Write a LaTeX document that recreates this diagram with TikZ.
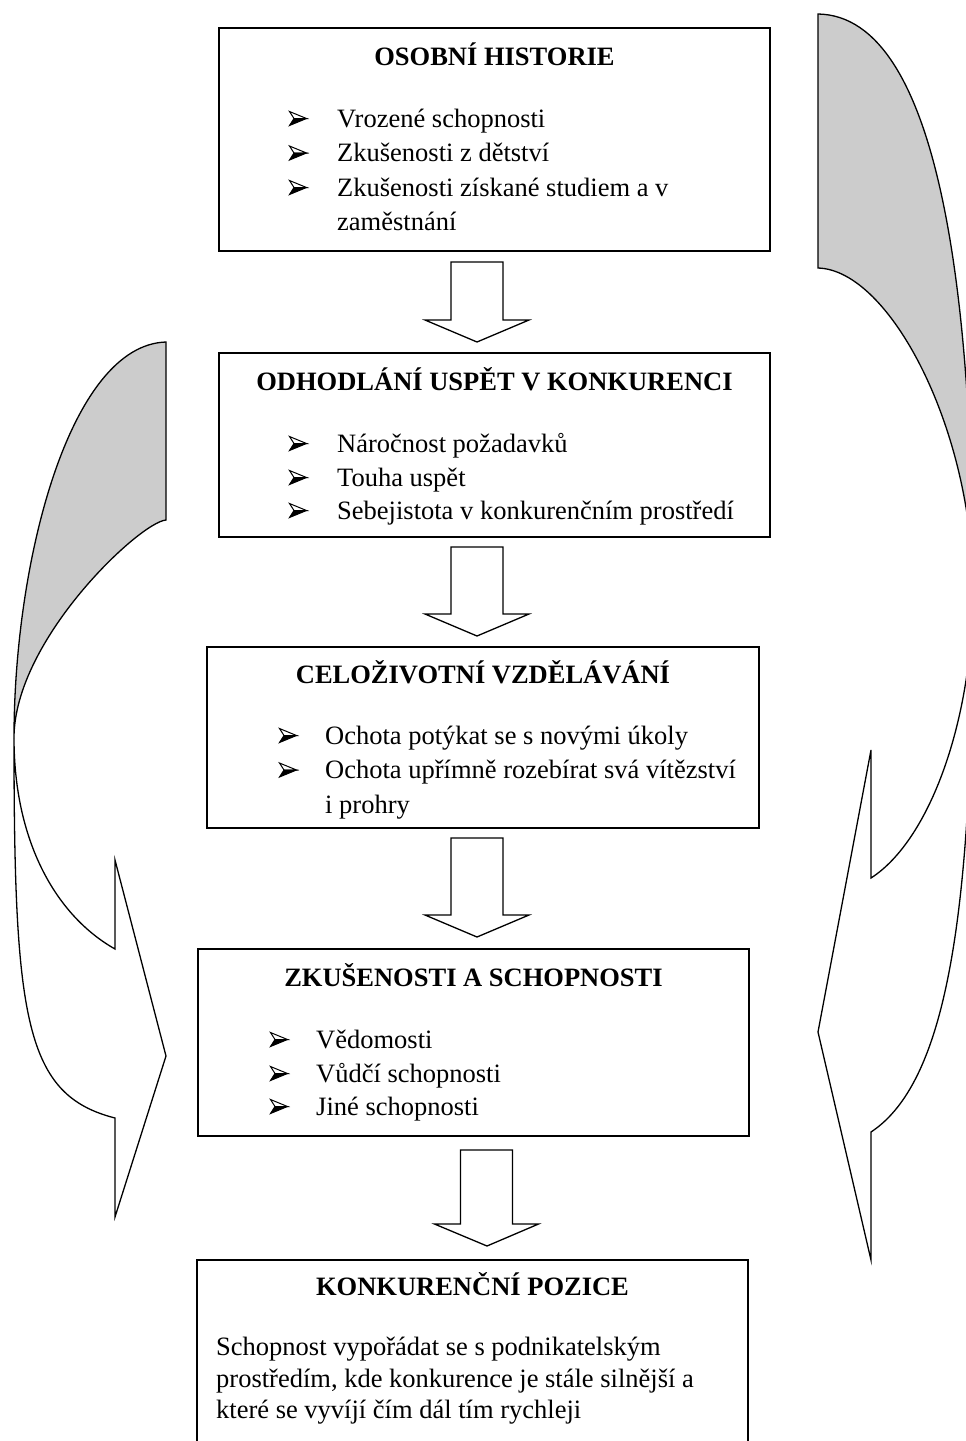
\documentclass[tikz,border=0pt]{standalone}
\usepackage{fontspec}
\setmainfont{Liberation Serif}
\usetikzlibrary{calc}
\definecolor{shade}{RGB}{204,204,204}
\begin{document}
\begin{tikzpicture}[x=1pt,y=-1pt,
  box/.style={draw, line width=1.4pt, fill=white, inner sep=0pt, outer sep=0pt, anchor=north west},
  ttl/.style={font=\fontsize{26.5pt}{34.5pt}\selectfont\bfseries, inner sep=0pt, anchor=base},
  itm/.style={font=\fontsize{26.5pt}{34.5pt}\selectfont, inner sep=0pt, anchor=base west},
  blockarr/.style={draw, line width=1.3pt, fill=white, line join=miter},
  curve/.style={draw, line width=1.3pt, line join=miter},
  bul/.pic={
    \filldraw[line width=1pt, fill=white, line join=miter] (-8.5,-7) -- (8.5,0) -- (-4,0) -- cycle;
    \filldraw[line width=1pt, line join=miter] (-4,0) -- (8.5,0) -- (-8.5,7) -- cycle;
  }]
\useasboundingbox (0,0) rectangle (966,1441);

% down arrow between two named points: shaft top and tip
\newcommand\blockdown[2]{%
  \draw[blockarr] let \p1=(#1), \p2=(#2) in
    (\x1-26pt,\y1) -- (\x1+26pt,\y1) -- (\x1+26pt,\y2+22pt) -- (\x1+52pt,\y2+22pt)
    -- (\x2,\y2) -- (\x1-52pt,\y2+22pt) -- (\x1-26pt,\y2+22pt) -- cycle;}

% ---- curved arrow on the left ----
\filldraw[curve, fill=white] (14,738) .. controls (14,1020) and (25,1095) .. (115,1118)
  -- (115,1217) -- (166,1056) -- (115,860) -- (115,949)
  .. controls (55,915) and (14,840) .. (14,738) -- cycle;
\filldraw[curve, fill=shade] (166,342) .. controls (70,345) and (14,560) .. (14,738)
  .. controls (14,640) and (140,522) .. (166,520) -- cycle;

% ---- curved arrow on the right ----
\filldraw[curve, fill=white] (973,590) .. controls (973,900) and (950,1080) .. (871,1132)
  -- (871,1260) -- (818,1032) -- (871,750) -- (871,878)
  .. controls (930,840) and (973,720) .. (973,590) -- cycle;
\filldraw[curve, fill=shade] (818,14) .. controls (940,16) and (973,300) .. (973,590)
  .. controls (973,430) and (890,270) .. (818,268) -- cycle;

% ---- boxes ----
\node[box, minimum width=551pt, minimum height=223pt] (b1) at (219,28) {};
\node[box, minimum width=551pt, minimum height=184pt] (b2) at (219,353) {};
\node[box, minimum width=552pt, minimum height=181pt] (b3) at (207,647) {};
\node[box, minimum width=551pt, minimum height=187pt] (b4) at (198,949) {};
\node[box, minimum width=551pt, minimum height=250pt] (b5) at (197,1260) {};

% box 1
\node[ttl] (b1h) at (494.5,65) {OSOBNÍ HISTORIE};
\pic at (298,118.5) {bul};
\node[itm] (b1i1) at (337,127) {Vrozené schopnosti};
\pic at (298,153) {bul};
\node[itm] (b1i2) at (337,161.5) {Zkušenosti z dětství};
\pic at (298,187.5) {bul};
\node[itm] (b1i3) at (337,196) {Zkušenosti získané studiem a v};
\node[itm] (b1i4) at (337,230.5) {zaměstnání};

% box 2
\node[ttl] (b2h) at (494.5,390) {ODHODLÁNÍ USPĚT V KONKURENCI};
\pic at (298,443.5) {bul};
\node[itm] (b2i1) at (337,452) {Náročnost požadavků};
\pic at (298,477.5) {bul};
\node[itm] (b2i2) at (337,486) {Touha uspět};
\pic at (298,510.5) {bul};
\node[itm] (b2i3) at (337,519) {Sebejistota v konkurenčním prostředí};

% box 3
\node[ttl] (b3h) at (483,683) {CELOŽIVOTNÍ VZDĚLÁVÁNÍ};
\pic at (288,735.5) {bul};
\node[itm] (b3i1) at (325,744) {Ochota potýkat se s novými úkoly};
\pic at (288,770) {bul};
\node[itm] (b3i2) at (325,778.5) {Ochota upřímně rozebírat svá vítězství};
\node[itm] (b3i3) at (325,813) {i prohry};

% box 4
\node[ttl] (b4h) at (473.5,986) {ZKUŠENOSTI A SCHOPNOSTI};
\pic at (279,1039.5) {bul};
\node[itm] (b4i1) at (316,1048) {Vědomosti};
\pic at (279,1073.5) {bul};
\node[itm] (b4i2) at (316,1082) {Vůdčí schopnosti};
\pic at (279,1106.5) {bul};
\node[itm] (b4i3) at (316,1115) {Jiné schopnosti};

% box 5
\node[ttl] (b5h) at (472.5,1295) {KONKURENČNÍ POZICE};
\node[itm] (b5l1) at (216,1355) {Schopnost vypořádat se s podnikatelským};
\node[itm] (b5l2) at (216,1387) {prostředím, kde konkurence je stále silnější a};
\node[itm] (b5l3) at (216,1418) {které se vyvíjí čím dál tím rychleji};

% ---- block arrows between the boxes ----
\coordinate (a1s) at ($(b1.south)+(-17.5,11)$);
\coordinate (a1e) at ($(b2.north)+(-17.5,-11)$);
\coordinate (a2s) at ($(b2.south)+(-17.5,10)$);
\coordinate (a2e) at ($(b3.north)+(-6,-11)$);
\coordinate (a3s) at ($(b3.south)+(-6,10)$);
\coordinate (a3e) at ($(b4.north)+(3.5,-12)$);
\coordinate (a4s) at ($(b4.south)+(13,14)$);
\coordinate (a4e) at ($(b5.north)+(14.5,-14)$);
\blockdown{a1s}{a1e}
\blockdown{a2s}{a2e}
\blockdown{a3s}{a3e}
\blockdown{a4s}{a4e}
\end{tikzpicture}
\end{document}
